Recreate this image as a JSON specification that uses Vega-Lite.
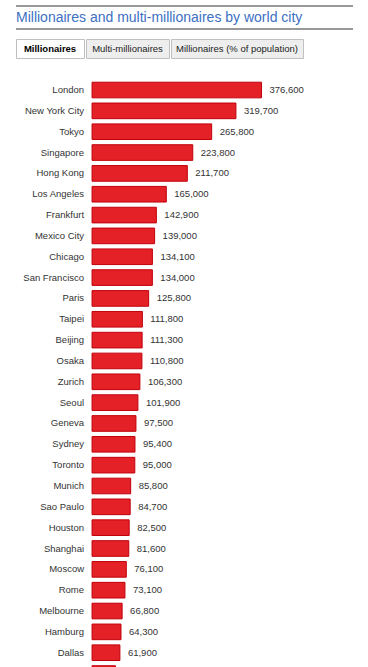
{
  "$schema": "https://vega.github.io/schema/vega-lite/v6.json",
  "padding": {"left": 15, "top": 5, "right": 15, "bottom": 0},
  "background": "#ffffff",
  "config": {
    "view": {"stroke": null},
    "font": "Liberation Sans",
    "text": {"font": "Liberation Sans"}
  },
  "spacing": 8,
  "vconcat": [
    {
      "width": 337,
      "height": 23,
      "layer": [
        {
          "data": {"values": [{"edge": "top"}, {"edge": "bottom"}]},
          "mark": {"type": "rule", "color": "#333333", "strokeWidth": 1},
          "encoding": {
            "y": {"field": "edge", "type": "nominal", "scale": {"type": "point", "domain": ["top", "bottom"], "padding": 0}, "axis": null}
          }
        },
        {
          "data": {"values": [{"heading": "Millionaires and multi-millionaires by world city"}]},
          "mark": {"type": "text", "align": "left", "baseline": "alphabetic", "fontSize": 14, "color": "#3d6fc2", "dy": 4},
          "encoding": {
            "x": {"datum": 0, "type": "quantitative", "scale": {"domain": [0, 1]}, "axis": null},
            "text": {"field": "heading"}
          }
        }
      ]
    },
    {
      "spacing": 0,
      "hconcat": [
        {
          "width": 68, "height": 19,
          "view": {"fill": "#ffffff", "stroke": "#c0c0c0"},
          "data": {"values": [{"tab": "Millionaires"}]},
          "mark": {"type": "text", "fontSize": 9.5, "fontWeight": "bold", "color": "#000000", "baseline": "middle"},
          "encoding": {"text": {"field": "tab"}}
        },
        {
          "width": 83, "height": 19,
          "view": {"fill": "#eeeeee", "stroke": "#c0c0c0"},
          "data": {"values": [{"tab": "Multi-millionaires"}]},
          "mark": {"type": "text", "fontSize": 9.5, "color": "#222222", "baseline": "middle"},
          "encoding": {"text": {"field": "tab"}}
        },
        {
          "width": 132, "height": 19,
          "view": {"fill": "#eeeeee", "stroke": "#c0c0c0"},
          "data": {"values": [{"tab": "Millionaires (% of population)"}]},
          "mark": {"type": "text", "fontSize": 9.5, "color": "#222222", "baseline": "middle"},
          "encoding": {"text": {"field": "tab"}}
        }
      ]
    },
    {
      "width": 337,
      "height": {"step": 20.84},
      "data": {"values": [
        {"city": "London", "millionaires": 376600},
        {"city": "New York City", "millionaires": 319700},
        {"city": "Tokyo", "millionaires": 265800},
        {"city": "Singapore", "millionaires": 223800},
        {"city": "Hong Kong", "millionaires": 211700},
        {"city": "Los Angeles", "millionaires": 165000},
        {"city": "Frankfurt", "millionaires": 142900},
        {"city": "Mexico City", "millionaires": 139000},
        {"city": "Chicago", "millionaires": 134100},
        {"city": "San Francisco", "millionaires": 134000},
        {"city": "Paris", "millionaires": 125800},
        {"city": "Taipei", "millionaires": 111800},
        {"city": "Beijing", "millionaires": 111300},
        {"city": "Osaka", "millionaires": 110800},
        {"city": "Zurich", "millionaires": 106300},
        {"city": "Seoul", "millionaires": 101900},
        {"city": "Geneva", "millionaires": 97500},
        {"city": "Sydney", "millionaires": 95400},
        {"city": "Toronto", "millionaires": 95000},
        {"city": "Munich", "millionaires": 85800},
        {"city": "Sao Paulo", "millionaires": 84700},
        {"city": "Houston", "millionaires": 82500},
        {"city": "Shanghai", "millionaires": 81600},
        {"city": "Moscow", "millionaires": 76100},
        {"city": "Rome", "millionaires": 73100},
        {"city": "Melbourne", "millionaires": 66800},
        {"city": "Hamburg", "millionaires": 64300},
        {"city": "Dallas", "millionaires": 61900},
        {"city": "Washington", "millionaires": 52000}
      ]},
      "encoding": {
        "y": {
          "field": "city", "type": "nominal", "sort": null,
          "scale": {"paddingInner": 0.25, "paddingOuter": 0.73},
          "axis": null
        }
      },
      "layer": [
        {
          "mark": {"type": "bar", "fill": "#e42127", "stroke": "#c1000b", "strokeWidth": 1},
          "encoding": {
            "x": {"field": "millionaires", "type": "quantitative", "scale": {"domain": [-169000, 579889], "nice": false, "zero": false}, "axis": null}
          }
        },
        {
          "mark": {"type": "text", "align": "left", "baseline": "middle", "dx": 8, "fontSize": 9.5, "color": "#333333"},
          "encoding": {
            "x": {"field": "millionaires", "type": "quantitative"},
            "text": {"field": "millionaires", "type": "quantitative", "format": ",.0f"}
          }
        },
        {
          "mark": {"type": "text", "align": "right", "baseline": "middle", "dx": -8, "fontSize": 9.5, "color": "#333333"},
          "encoding": {
            "x": {"datum": 0, "type": "quantitative"},
            "text": {"field": "city"}
          }
        }
      ]
    }
  ]
}
